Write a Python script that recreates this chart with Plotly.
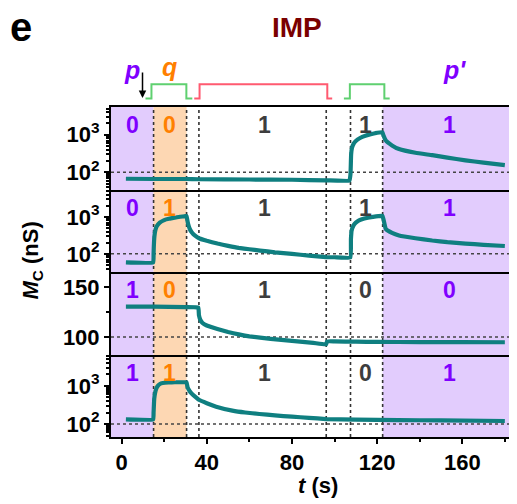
import plotly.graph_objects as go
from plotly.subplots import make_subplots

FONT = "Liberation Sans, Arial, sans-serif"

# ---------------- data ----------------
t_a = [2, 15, 30, 36, 60, 80, 96, 107, 107.5, 107.8, 108.2, 109, 110, 112, 114.5, 117, 119,
       122.5, 123, 124.1, 127, 130.3, 138, 145.9, 153, 161.5, 170, 180]
mc_a = [67, 66, 66, 65, 64, 63, 61, 60, 90, 300, 450, 580, 680, 820, 940, 1040, 1100,
        1170, 950, 700, 520, 415, 330, 285, 245, 208, 180, 155]

t_b = [2, 14.8, 15, 15.1, 15.4, 15.8, 16.5, 17.9, 20, 22.6, 26, 29.6, 30.5, 30.8, 31.2, 32,
       33, 34.5, 36.6, 40, 45, 50, 55, 60, 65, 72, 80, 88, 96, 100, 107.4, 107.7, 108,
       109, 110, 111.5, 114, 118, 122.5, 123, 124.1, 127, 130.3, 138, 145.9, 153, 161.5,
       170, 180]
mc_b = [59, 59, 100, 150, 300, 430, 560, 700, 820, 900, 980, 1040, 1060, 850, 650, 470,
        380, 310, 260, 225, 190, 165, 145, 133, 123, 110, 100, 90, 82, 81, 80, 250, 420,
        600, 700, 800, 900, 1000, 1070, 850, 470, 370, 315, 265, 230, 208, 190,
        176, 163]

t_c = [2, 15, 30, 36, 36.3, 37, 38, 40, 45, 50, 55, 60, 70, 80, 90, 96, 96.5, 100, 110,
       120, 140, 160, 180]
mc_c = [130.5, 130.5, 130, 129.5, 122, 117, 114, 111.5, 108, 105, 102.5, 100.5, 98, 96, 94,
        92.5, 95.5, 95.5, 95.2, 95, 94.8, 94.7, 94.6]

t_d = [2, 14.8, 15, 15.3, 15.7, 16.3, 17, 18, 19.3, 22, 25, 30, 30.5, 31, 31.8, 32.7, 34.5,
       36.3, 40, 44.4, 52, 58, 64.7, 72, 80, 88, 96, 110, 130, 150, 180]
mc_d = [132, 132, 200, 450, 650, 850, 1000, 1120, 1180, 1220, 1240, 1240, 1230, 900, 750,
        640, 520, 430, 350, 285, 224, 200, 183, 168, 156, 145, 135, 130, 127, 124, 120]

series_t = [t_a, t_b, t_c, t_d]
series_mc = [mc_a, mc_b, mc_c, mc_d]
ref_levels = [100, 100, 100, 100]

# state labels per panel (p, q, IMP, second pulse, p')
state_labels = [
    ["0", "0", "1", "1", "1"],
    ["0", "1", "1", "1", "1"],
    ["1", "0", "1", "0", "0"],
    ["1", "1", "1", "0", "1"],
]
label_t = [5, 22.6, 67, 114.5, 154]
label_colors = ["#7f00ff", "#ff8000", "#3d3d3d", "#3d3d3d", "#7f00ff"]

# phase regions and boundaries (s)
t_range = [-5, 184.3]
regions = [(-5, 15, "#e2ccfd"), (15, 30.5, "#fdd7b3"), (122.6, 184.3, "#e2ccfd")]
boundaries = [15, 30.5, 36.3, 96.1, 107.5, 122.6]

# pulse diagram edges (base start, rise, fall, base end), colour
pulses = [
    ([11.2, 14.0, 30.4, 33.2], "#5fd070"),
    ([34.1, 36.6, 96.6, 98.9], "#ff5a70"),
    ([104.4, 107.2, 123.4, 125.9], "#5fd070"),
]

x_ticks = [0, 40, 80, 120, 160]
x_minor = [20, 60, 100, 140, 180]
log_ticks = [100, 1000]
log_ticktext = ["10<sup>2</sup>", "10<sup>3</sup>"]
log_minor = [20, 30, 40, 50, 60, 70, 80, 90, 200, 300, 400, 500, 600, 700, 800, 900,
             2000, 3000, 4000, 5000, 6000]
lin_ticks = [100, 150]
lin_minor = [125]

y_ranges = [[1.54, 3.74], [1.51, 3.74], [82.3, 165.3], [1.66, 3.82]]
y_types = ["log", "log", "linear", "log"]

# page body has an 8px margin; figure sized to fit the window exactly
W, H, L, R, T, B = 509, 496, 103, 1, 99, 67
pw, ph = W - L - R, H - T - B

# ---------------- figure ----------------
fig = make_subplots(rows=4, cols=1, shared_xaxes=True, vertical_spacing=0)

for i in range(4):
    r = i + 1
    fig.add_trace(go.Scatter(x=t_range, y=[ref_levels[i]] * 2, mode="lines",
                             line=dict(color="#444", width=1.5, dash="dot"),
                             hoverinfo="skip", showlegend=False), row=r, col=1)
    fig.add_trace(go.Scatter(x=series_t[i], y=series_mc[i], mode="lines",
                             line=dict(color="#0f7f80", width=4.2, shape="spline",
                                       smoothing=0.3),
                             showlegend=False), row=r, col=1)

shapes = []
for x0, x1, col in regions:
    shapes.append(dict(type="rect", xref="x", yref="paper", x0=x0, x1=x1, y0=0, y1=1,
                       fillcolor=col, line=dict(width=0), layer="below"))
for b in boundaries:
    shapes.append(dict(type="line", xref="x", yref="paper", x0=b, x1=b, y0=0, y1=1,
                       line=dict(color="#333", width=1.6, dash="dot"), layer="below"))
lo, hi = 1.026, 1.069
for (a, b, c, d), col in pulses:
    path = f"M {a},{lo} L {b},{lo} L {b},{hi} L {c},{hi} L {c},{lo} L {d},{lo}"
    shapes.append(dict(type="path", xref="x", yref="paper", path=path,
                       line=dict(color=col, width=2)))

annotations = []
for i in range(4):
    yd = "y domain" if i == 0 else f"y{i+1} domain"
    for j in range(5):
        annotations.append(dict(x=label_t[j], y=0.78, xref="x", yref=yd,
                                text=f"<b>{state_labels[i][j]}</b>", showarrow=False,
                                font=dict(size=23, color=label_colors[j], family=FONT),
                                xanchor="center", yanchor="middle"))


def px_to_paper(xp, yp):
    return (xp - L) / pw, 1 + (T - yp) / ph


imp_x, imp_y = px_to_paper(290, 19)
e_x, e_y = px_to_paper(13, 19)

annotations += [
    dict(x=9.8, y=1.027, xref="x", yref="paper", text="", showarrow=True,
         ax=0, ay=-27, arrowhead=2, arrowsize=1, arrowwidth=1.5, arrowcolor="black"),
    dict(x=5.0, y=1.112, xref="x", yref="paper", text="<b><i>p</i></b>", showarrow=False,
         font=dict(size=25, color="#7f00ff", family=FONT), xanchor="center", yanchor="middle"),
    dict(x=22.6, y=1.12, xref="x", yref="paper", text="<b><i>q</i></b>", showarrow=False,
         font=dict(size=25, color="#ff8000", family=FONT), xanchor="center", yanchor="middle"),
    dict(x=156.3, y=1.112, xref="x", yref="paper", text="<b><i>p'</i></b>", showarrow=False,
         font=dict(size=25, color="#7f00ff", family=FONT), xanchor="center", yanchor="middle"),
    dict(x=imp_x, y=imp_y, xref="paper", yref="paper", text="<b>IMP</b>", showarrow=False,
         font=dict(size=28, color="#7a0000", family=FONT), xanchor="center", yanchor="middle"),
    dict(x=e_x, y=e_y, xref="paper", yref="paper", text="<b>e</b>", showarrow=False,
         font=dict(size=40, color="black", family=FONT), xanchor="center", yanchor="middle"),
    dict(x=-0.195, y=0.536, xref="paper", yref="paper", textangle=-90,
         text="<b><i>M</i><sub>C</sub> (nS)</b>", showarrow=False,
         font=dict(size=22, color="black", family=FONT), xanchor="center", yanchor="middle"),
    dict(x=0.513, y=-0.148, xref="paper", yref="paper",
         text="<b><i>t</i> (s)</b>", showarrow=False,
         font=dict(size=22, color="black", family=FONT), xanchor="center", yanchor="middle"),
]

tickfont = dict(size=22, color="black", family=FONT, weight="bold")

for i in range(4):
    r = i + 1
    yax = dict(type=y_types[i], range=y_ranges[i], showline=True, linewidth=2,
               linecolor="black", mirror=True, ticks="outside", ticklen=5, tickwidth=2,
               tickcolor="black", tickfont=tickfont, showgrid=False, zeroline=False)
    if y_types[i] == "log":
        yax.update(tickmode="array", tickvals=log_ticks, ticktext=log_ticktext,
                   minor=dict(tickmode="array", tickvals=log_minor, ticks="outside",
                              ticklen=3, tickwidth=1.5, tickcolor="black", showgrid=False))
    else:
        yax.update(tickmode="array", tickvals=lin_ticks, ticktext=[str(v) for v in lin_ticks],
                   minor=dict(tickmode="array", tickvals=lin_minor, ticks="outside",
                              ticklen=3, tickwidth=1.5, tickcolor="black", showgrid=False))
    fig.update_yaxes(row=r, col=1, **yax)

    # top panel draws both top and bottom frame; others only their bottom line
    xax = dict(range=t_range, showline=True, linewidth=2, linecolor="black",
               mirror=(r == 1), showgrid=False, zeroline=False)
    if r == 4:
        xax.update(tickmode="array", tickvals=x_ticks, ticks="outside", ticklen=5, tickwidth=2,
                   tickcolor="black", tickfont=tickfont, showticklabels=True,
                   minor=dict(tickmode="array", tickvals=x_minor, ticks="outside",
                              ticklen=3, tickwidth=1.5, tickcolor="black", showgrid=False))
    else:
        xax.update(ticks="", showticklabels=False)
    fig.update_xaxes(row=r, col=1, **xax)

fig.update_layout(
    width=W, height=H,
    margin=dict(l=L, r=R, t=T, b=B),
    paper_bgcolor="white", plot_bgcolor="white",
    showlegend=False,
    shapes=shapes, annotations=annotations,
    font=dict(family=FONT, color="black"),
)

fig.write_html("out.html")
